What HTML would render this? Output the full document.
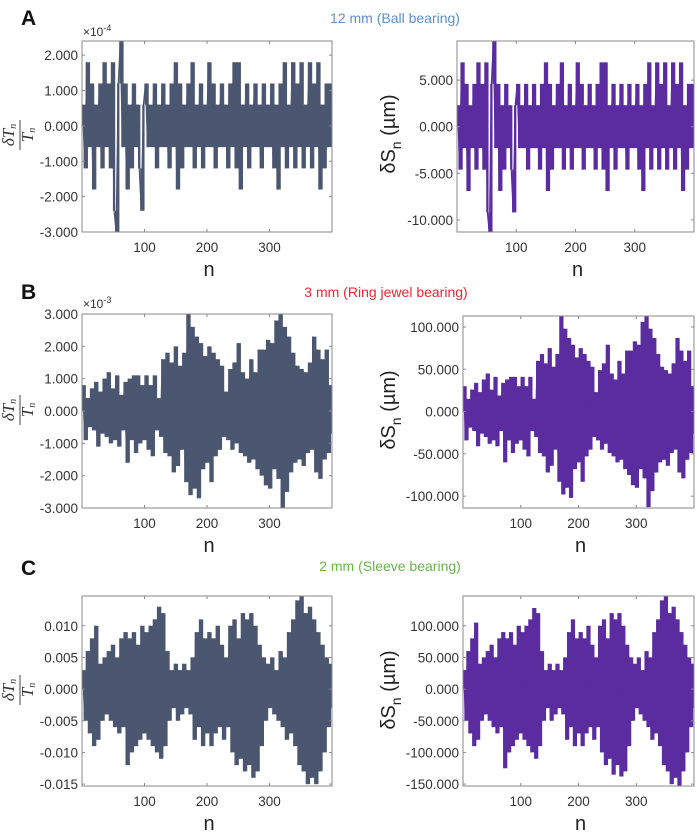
<!DOCTYPE html>
<html><head><meta charset="utf-8"><style>
html,body{margin:0;padding:0;background:#fff;}
svg{display:block;}
</style></head><body>
<svg id="fig" width="697" height="834" viewBox="0 0 697 834" xmlns="http://www.w3.org/2000/svg" font-family="Liberation Sans, sans-serif"></svg>
<script>
// ---- data (index i maps to n = 1 + i*399/119) ----
const nMin = 1, nMax = 400;
const xTicks = [100, 200, 300];
// Panel A: dT/T in units of 1e-4, dS in um
const aLeft = [0.6,-1.2,1.8,-0.6,1.2,-1.8,0.6,-0.6,1.2,-1.2, 1.8,-0.6,1.2,-1.2,1.8,-2.4,-3.0,1.2,2.4,-0.6, 1.2,-1.8,0.6,-1.2,1.2,-0.6,0.6,-1.2,-2.4,0.6, 1.2,-0.6,0.6,-0.6,1.2,-1.2,0.6,-0.6,1.2,-0.6, 0.6,-1.2,1.2,-0.6,1.8,-1.8,1.2,-1.2,0.6,-0.6, 1.2,-0.6,1.8,-1.2,0.6,-0.6,1.2,-1.2,0.6,-0.6, 1.8,-0.6,1.2,-1.2,0.6,-0.6,1.2,-0.6,0.6,-1.2, 1.2,-0.6,1.8,-1.2,1.8,-1.8,0.6,-0.6,1.2,-1.2, 0.6,-0.6,1.2,-0.6,0.6,-1.2,1.2,-0.6,0.6,-0.6, 1.2,-1.2,0.6,-1.8,1.2,-0.6,1.8,-1.2,0.6,-0.6, 1.8,-1.2,1.2,-0.6,1.8,-1.2,0.6,-0.6,1.8,-1.2, 1.2,-0.6,1.8,-1.8,0.6,-1.2,1.2,-0.6,1.2,-0.6];
const aRight = [2.3,-4.6,6.9,-2.3,4.6,-6.9,2.3,-2.3,4.6,-4.6, 6.9,-2.3,4.6,-4.6,6.9,-9.2,-11.5,4.6,9.2,-2.3, 4.6,-6.9,2.3,-4.6,4.6,-2.3,2.3,-4.6,-9.2,2.3, 4.6,-2.3,2.3,-2.3,4.6,-4.6,2.3,-2.3,4.6,-2.3, 2.3,-4.6,4.6,-2.3,6.9,-6.9,4.6,-4.6,2.3,-2.3, 4.6,-2.3,6.9,-4.6,2.3,-2.3,4.6,-4.6,2.3,-2.3, 6.9,-2.3,4.6,-4.6,2.3,-2.3,4.6,-2.3,2.3,-4.6, 4.6,-2.3,6.9,-4.6,6.9,-6.9,2.3,-2.3,4.6,-4.6, 2.3,-2.3,4.6,-2.3,2.3,-4.6,4.6,-2.3,2.3,-2.3, 4.6,-4.6,2.3,-6.9,4.6,-2.3,6.9,-4.6,2.3,-2.3, 6.9,-4.6,4.6,-2.3,6.9,-4.6,2.3,-2.3,6.9,-4.6, 4.6,-2.3,6.9,-6.9,2.3,-4.6,4.6,-2.3,4.6,-2.3];
// Panel B: dT/T in units of 1e-3, dS in um
const bLeft = [0.8,-0.9,0.4,-0.5,0.7,-0.6,0.9,-1.1,0.6,-0.7, 1.0,-0.8,1.2,-1.0,0.7,-0.9,1.1,-1.1,0.5,-0.6, 0.9,-1.6,1.0,-0.9,1.1,-1.3,1.1,-1.0,0.8,-0.9, 1.1,-1.2,0.8,-1.4,1.1,-0.6,0.4,-0.8,1.6,-1.3, 1.8,-1.4,1.5,-1.9,2.0,-1.7,1.4,-1.2,1.8,-2.2, 3.0,-2.6,2.6,-2.4,2.3,-2.7,2.1,-1.8,1.7,-1.6, 2.0,-2.2,1.8,-1.4,1.6,-1.2,1.4,-0.8,0.6,-0.9, 1.3,-1.2,1.5,-1.0,2.1,-1.3,1.2,-1.4,1.0,-1.6, 1.6,-1.5,1.2,-1.8,1.9,-2.0,1.9,-2.3,2.2,-2.4, 2.1,-1.8,2.8,-2.1,3.0,-3.0,2.6,-2.5,2.3,-1.9, 1.8,-1.6,1.4,-1.5,1.3,-1.7,1.2,-1.3,1.5,-1.2, 2.3,-1.9,1.9,-2.1,1.6,-1.5,1.9,-1.3,0.8,-0.7];
const bRight = [30,-34,15,-19,26,-23,34,-41,23,-26, 38,-30,45,-38,26,-34,41,-41,19,-23, 34,-60,38,-34,41,-49,41,-38,30,-34, 41,-45,30,-53,41,-23,15,-30,60,-49, 68,-53,57,-72,75,-64,53,-45,68,-83, 113,-98,98,-90,87,-102,79,-68,64,-60, 75,-83,68,-53,60,-45,53,-30,23,-34, 49,-45,57,-38,79,-49,45,-53,38,-60, 60,-57,45,-68,72,-75,72,-87,83,-90, 79,-68,106,-79,113,-113,98,-94,87,-72, 68,-60,53,-57,49,-64,45,-49,57,-45, 87,-72,72,-79,60,-57,72,-49,30,-26];
// Panel C: dT/T in units of 1e-3, dS in um
const cLeft = [3,-5,6,-7,8,-9,10,-8,4,-5, 5,-4,6,-5,7,-6,5,-7,8,-6, 9,-12,8,-10,9,-9,7,-8,10,-7, 9,-8,10,-9,11,-10,13,-11,12,-9, 6,-5,3,-3,4,-5,3,-4,4,-3, 3,-4,5,-8,9,-6,11,-9,8,-7, 9,-9,8,-7,10,-6,7,-8,5,-6, 10,-10,11,-12,8,-11,12,-13,11,-12, 12,-14,10,-13,7,-9,5,-5,4,-3, 5,-4,3,-5,6,-6,5,-8,9,-7, 11,-9,14,-12,15,-13,12,-15,13,-14, 11,-15,9,-13,7,-10,5,-6,4,-3];
const cRight = [30,-50,60,-70,80,-90,105,-80,40,-50, 50,-40,60,-50,70,-60,50,-70,80,-60, 90,-125,80,-100,90,-90,70,-80,100,-70, 90,-80,100,-90,110,-100,128,-110,120,-90, 60,-50,30,-30,40,-50,30,-40,40,-30, 30,-40,50,-80,90,-60,110,-90,80,-70, 90,-90,80,-70,100,-60,70,-80,50,-60, 100,-100,110,-120,80,-110,120,-135,110,-120, 120,-138,100,-130,70,-90,50,-50,40,-30, 50,-40,30,-50,60,-60,50,-80,90,-70, 110,-90,140,-120,147,-130,120,-150,130,-140, 110,-153,90,-130,70,-100,50,-60,40,-30];
// tick values / labels
const aLeftTicks = [2,1,0,-1,-2,-3];
const aLeftLabels = ["2.000","1.000","0.000","-1.000","-2.000","-3.000"];
const aRightTicks = [5,0,-5,-10];
const aRightLabels = ["5.000","0.000","-5.000","-10.000"];
const bLeftTicks = [3,2,1,0,-1,-2,-3];
const bLeftLabels = ["3.000","2.000","1.000","0.000","-1.000","-2.000","-3.000"];
const bRightTicks = [100,50,0,-50,-100];
const bRightLabels = ["100.000","50.000","0.000","-50.000","-100.000"];
const cLeftTicks = [10,5,0,-5,-10,-15];
const cLeftLabels = ["0.010","0.005","0.000","-0.005","-0.010","-0.015"];
const cRightTicks = [100,50,0,-50,-100,-150];
const cRightLabels = ["100.000","50.000","0.000","-50.000","-100.000","-150.000"];

const NS = "http://www.w3.org/2000/svg";
const fig = document.getElementById('fig');
function mk(tag, attrs, parent, text){
  const e = document.createElementNS(NS, tag);
  for (const k in attrs) e.setAttribute(k, attrs[k]);
  if (text !== undefined) e.textContent = text;
  (parent || fig).appendChild(e);
  return e;
}
let clipId = 0;
function panel(name, L, R, T, B, yMin, yMax, vals, ticks, labels, color){
  const g = mk('g', {});
  
  
  const xs = n => L + (n - 0) / (nMax - 0) * (R - L);
  const ys = v => B - (v - yMin) / (yMax - yMin) * (B - T);
  const id = 'clip' + (clipId++);
  const cp = mk('clipPath', {id: id}, g);
  mk('rect', {x: L, y: T, width: R - L, height: B - T}, cp);
  // series: connecting line + vertical spans between consecutive values (dense fill look)
  let d = '', s = '';
  const N = vals.length;
  let prevY = ys(0);
  vals.forEach((v, i) => {
    const n = nMin + i * (nMax - nMin) / (N - 1);
    const x = xs(n).toFixed(2), y = ys(v);
    d += (i ? 'L' : 'M') + x + ' ' + y.toFixed(2);
    s += 'M' + x + ' ' + prevY.toFixed(2) + 'V' + y.toFixed(2);
    prevY = y;
  });
  const st = mk('path', {d: s, fill: 'none', stroke: color, 'stroke-width': 2.3, 'clip-path': 'url(#' + id + ')'}, g);
  
  
  const p = mk('path', {d: d, fill: 'none', stroke: color, 'stroke-width': 1.2, 'clip-path': 'url(#' + id + ')'}, g);
  
  
  // frame
  const fr = mk('rect', {x: L, y: T, width: R - L, height: B - T, fill: 'none', stroke: '#8a8a8a', 'stroke-width': 1}, g);
  
  
  // x ticks
  xTicks.forEach(t => {
    const x = xs(t);
    mk('line', {x1: x, x2: x, y1: B, y2: B - 3, stroke: '#8a8a8a'}, g);
    mk('line', {x1: x, x2: x, y1: T, y2: T + 3, stroke: '#8a8a8a'}, g);
    const tl = mk('text', {x: x, y: B + 20, 'text-anchor': 'middle', 'font-size': 13.5, fill: '#333'}, g, String(t));
    
    
  });
  // y ticks
  ticks.forEach((t, i) => {
    const y = ys(t);
    mk('line', {x1: L, x2: L + 3, y1: y, y2: y, stroke: '#8a8a8a'}, g);
    mk('line', {x1: R, x2: R - 3, y1: y, y2: y, stroke: '#8a8a8a'}, g);
    const tl = mk('text', {x: L - 4, y: y + 5, 'text-anchor': 'end', 'font-size': 13.5, fill: '#333'}, g, labels[i]);
    
    
  });
  // x label
  const xl = mk('text', {x: (L + R) / 2 + 2, y: B + 44, 'text-anchor': 'middle', 'font-size': 20, fill: '#222'}, g, 'n');
  
  
}
const LC = '#4b5670', RC = '#5a2ca0';
panel('panel-a-left', 82, 332, 41, 232, -3, 2.4, aLeft, aLeftTicks, aLeftLabels, LC);
panel('panel-a-right', 457, 694, 41, 232, -11.3, 9.2, aRight, aRightTicks, aRightLabels, RC);
panel('panel-b-left', 82, 332, 314, 508, -3, 3, bLeft, bLeftTicks, bLeftLabels, LC);
panel('panel-b-right', 463, 694, 316, 508, -114, 113, bRight, bRightTicks, bRightLabels, RC);
panel('panel-c-left', 82, 332, 596, 786, -15.3, 14.7, cLeft, cLeftTicks, cLeftLabels, LC);
panel('panel-c-right', 463, 694, 596, 786, -153, 147, cRight, cRightTicks, cRightLabels, RC);

// panel letters & titles
[['A', 18, 'panel-letter-a'], ['B', 292, 'panel-letter-b'], ['C', 568, 'panel-letter-c']].forEach(a => {
  const t = mk('text', {x: 21, y: a[1] + 7, 'font-size': 21, 'font-weight': 'bold', fill: '#111'}, fig, a[0]);
  
  
});
[['12 mm (Ball bearing)', 395, 23, '#5b8fd0', 'title-a'],
 ['3 mm (Ring jewel bearing)', 386, 297, '#e8282e', 'title-b'],
 ['2 mm (Sleeve bearing)', 390, 571, '#6ab446', 'title-c']].forEach(a => {
  const t = mk('text', {x: a[1], y: a[2], 'text-anchor': 'middle', 'font-size': 14, fill: a[3]}, fig, a[0]);
  
  
});
// exponent labels
[['-4', 36, 'exponent-a'], ['-3', 308, 'exponent-b']].forEach(a => {
  const t = mk('text', {x: 83, y: a[1], 'font-size': 12, fill: '#333'}, fig);
  
  
  mk('tspan', {}, t, '\u00d710');
  mk('tspan', {dy: -5, 'font-size': 9}, t, a[0]);
});
// y axis titles
[[135, 'y-title-a-left'], [410, 'y-title-b-left'], [690, 'y-title-c-left']].forEach(a => {
  const g = mk('g', {transform: 'translate(19,' + a[0] + ') rotate(-90)'});
  
  
  const t1 = mk('text', {x: 0, y: -5, 'text-anchor': 'middle', 'font-size': 17, 'font-style': 'italic', 'font-family': 'Liberation Serif, serif', fill: '#333'}, g);
  mk('tspan', {}, t1, '\u03b4T');
  mk('tspan', {dy: 2, 'font-size': 10}, t1, 'n');
  mk('line', {x1: -15, x2: 15, y1: 1, y2: 1, stroke: '#333', 'stroke-width': 0.9}, g);
  const t2 = mk('text', {x: 0, y: 14, 'text-anchor': 'middle', 'font-size': 17, 'font-style': 'italic', 'font-family': 'Liberation Serif, serif', fill: '#333'}, g);
  mk('tspan', {}, t2, 'T');
  mk('tspan', {dy: 2, 'font-size': 10}, t2, 'n');
});
[[388, 134, 'y-title-a-right'], [388, 410, 'y-title-b-right'], [388, 690, 'y-title-c-right']].forEach(a => {
  const t = mk('text', {x: 0, y: 0, transform: 'translate(' + (a[0] + 7) + ',' + a[1] + ') rotate(-90)', 'text-anchor': 'middle', 'font-size': 20, fill: '#222'});
  
  
  mk('tspan', {}, t, '\u03b4S');
  mk('tspan', {dy: 6, 'font-size': 14}, t, 'n');
  mk('tspan', {dy: -6}, t, ' (\u00b5m)');
});
</script>
</body></html>
